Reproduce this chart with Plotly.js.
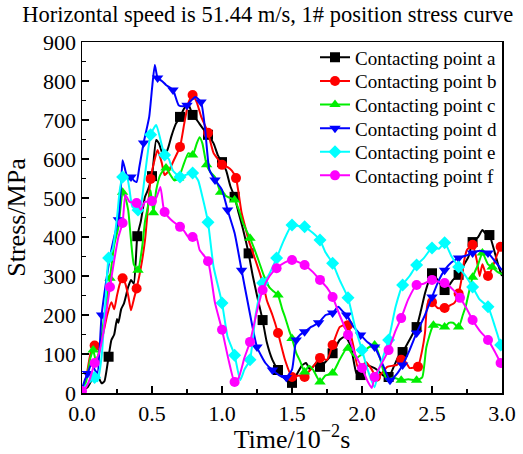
<!DOCTYPE html>
<html>
<head>
<meta charset="utf-8">
<script src="https://cdn.plot.ly/plotly-3.0.1.min.js"></script>
<style>html,body{margin:0;padding:0;background:#fff;}</style>
</head>
<body>
<div id="chart" style="width:523px;height:454px;"></div>
<script>
// Series names
const names = ["Contacting point a","Contacting point b","Contacting point c","Contacting point d","Contacting point e","Contacting point f"];
const colors = ["#000000","#ff0000","#00ee00","#0000ff","#00ffff","#ff00ff"];
const symbols = ["square","circle","triangle-up","triangle-down","diamond","circle"];

// Point a (black): time (10^-2 s), stress (MPa), marker flag
const aT = [0,0.04,0.08,0.11,0.14,0.16,0.19,0.21,0.23,0.25,0.26,0.28,0.3,0.33,0.35,0.37,0.395,0.42,0.45,0.47,0.5,0.53,0.55,0.58,0.61,0.64,0.67,0.7,0.73,0.76,0.79,0.82,0.86,0.9,0.94,0.97,1.0,1.03,1.06,1.09,1.12,1.15,1.19,1.22,1.25,1.29,1.32,1.36,1.4,1.44,1.47,1.5,1.53,1.57,1.6,1.63,1.67,1.7,1.74,1.79,1.84,1.88,1.92,1.96,1.99,2.03,2.07,2.11,2.15,2.19,2.23,2.27,2.29,2.33,2.36,2.39,2.42,2.45,2.48,2.5,2.54,2.59,2.62,2.65,2.69,2.73,2.76,2.79,2.83,2.86,2.88,2.91,2.95,2.98,3.0];
const aV = [5,15,40,45,25,30,93,136,150,190,180,215,230,272,290,280,402,440,503,520,556,649,640,610,623,660,690,708,730,740,713,700,680,662,640,610,592,570,530,503,460,420,358,300,250,187,130,85,59,40,30,26,45,70,77,60,75,67,80,102,136,145,120,51,46,70,67,59,45,41,70,100,105,130,150,169,210,256,290,307,290,264,275,290,303,330,349,387,400,418,410,405,358,320,300];
const aM = [0,0,0,0,0,0,1,0,0,0,0,0,0,0,0,0,1,0,0,0,1,0,0,0,0,0,0,1,0,0,1,0,0,1,0,0,1,0,0,1,0,0,1,0,0,1,0,0,1,0,0,1,0,0,0,0,0,1,0,1,0,0,0,0,1,0,0,0,0,1,0,0,1,0,0,1,0,0,0,1,0,1,0,0,1,0,0,1,0,0,0,1,0,0,0];

// Point b (red)
const bT = [0,0.03,0.06,0.09,0.12,0.15,0.18,0.21,0.23,0.25,0.27,0.29,0.31,0.33,0.35,0.37,0.39,0.42,0.45,0.47,0.49,0.52,0.54,0.57,0.59,0.62,0.66,0.7,0.73,0.76,0.79,0.82,0.85,0.9,0.94,0.97,1.0,1.04,1.07,1.1,1.14,1.17,1.19,1.23,1.27,1.3,1.32,1.36,1.4,1.45,1.5,1.55,1.59,1.62,1.65,1.7,1.75,1.79,1.84,1.88,1.9,1.94,1.97,2.0,2.03,2.07,2.1,2.14,2.18,2.22,2.25,2.28,2.31,2.34,2.37,2.4,2.43,2.45,2.47,2.5,2.54,2.59,2.63,2.66,2.69,2.71,2.73,2.75,2.79,2.82,2.84,2.86,2.88,2.9,2.93,2.96,2.99,3.0];
const bV = [5,40,100,122,110,150,200,233,215,250,280,294,280,250,212,240,268,320,392,470,549,600,623,590,559,570,600,631,690,744,764,745,710,667,615,600,585,579,570,551,462,420,392,350,307,270,238,200,154,85,41,45,41,55,67,90,85,123,169,175,174,118,67,70,79,60,41,50,67,70,72,85,80,64,65,67,110,154,231,233,218,218,225,231,255,290,340,367,380,340,300,330,310,300,320,350,375,370];
const bM = [0,0,0,1,0,0,0,0,0,0,0,1,0,0,0,0,1,0,0,0,1,0,0,0,0,0,0,1,0,0,1,0,0,1,0,0,1,0,0,1,0,0,0,0,0,0,0,0,1,0,1,0,1,0,0,1,0,1,0,0,1,0,0,0,0,0,1,0,0,0,0,1,0,0,0,1,0,0,0,1,0,1,0,0,1,0,0,0,1,0,0,0,0,1,0,0,1,0];

// Point c (green)
const cT = [0,0.03,0.06,0.08,0.1,0.13,0.16,0.2,0.23,0.26,0.29,0.31,0.33,0.35,0.37,0.4,0.43,0.45,0.47,0.49,0.51,0.53,0.56,0.6,0.63,0.66,0.69,0.72,0.76,0.79,0.82,0.84,0.86,0.89,0.92,0.95,0.99,1.04,1.09,1.12,1.15,1.2,1.23,1.26,1.3,1.34,1.37,1.4,1.43,1.45,1.48,1.5,1.53,1.56,1.59,1.62,1.65,1.68,1.7,1.74,1.79,1.84,1.88,1.9,1.93,1.96,2.0,2.04,2.09,2.12,2.15,2.18,2.22,2.28,2.33,2.39,2.43,2.46,2.51,2.55,2.59,2.62,2.65,2.69,2.72,2.74,2.79,2.83,2.86,2.9,2.93,2.97,3.0];
const cV = [5,30,90,110,80,120,200,294,380,425,515,500,469,392,330,315,375,440,477,520,462,520,560,577,560,545,551,580,615,610,640,656,640,585,565,554,515,503,495,470,436,397,370,341,300,270,260,251,215,195,160,140,103,80,54,70,60,40,28,45,51,85,110,115,100,90,100,115,123,100,60,33,40,33,35,33,40,118,174,175,169,180,180,169,200,221,297,330,359,330,323,310,305];
const cM = [0,0,0,1,0,0,0,1,0,0,1,0,0,0,0,1,0,0,0,0,1,0,0,1,0,0,1,0,0,1,0,0,0,1,0,0,1,0,1,0,0,1,0,0,0,0,0,1,0,0,0,1,0,0,1,0,0,0,1,0,1,0,0,1,0,0,0,0,1,0,0,0,0,1,0,1,0,0,1,0,1,0,0,1,0,0,1,0,1,0,1,0,0];

// Point d (blue)
const dT = [0,0.02,0.04,0.07,0.09,0.11,0.14,0.17,0.2,0.23,0.26,0.28,0.29,0.31,0.33,0.35,0.37,0.39,0.41,0.44,0.48,0.5,0.52,0.54,0.57,0.6,0.65,0.69,0.72,0.75,0.78,0.81,0.85,0.88,0.91,0.95,1.0,1.04,1.09,1.14,1.19,1.25,1.31,1.36,1.43,1.46,1.5,1.53,1.56,1.59,1.64,1.69,1.74,1.79,1.83,1.86,1.89,1.94,1.99,2.04,2.09,2.14,2.2,2.24,2.29,2.34,2.39,2.45,2.5,2.55,2.59,2.64,2.69,2.74,2.79,2.84,2.9,2.96,3.0];
const dV = [10,33,50,77,60,51,200,280,349,400,444,540,597,570,546,554,545,541,580,641,708,780,841,808,800,790,777,738,735,738,750,759,746,674,572,546,521,469,410,315,221,118,77,59,41,40,60,136,150,157,170,180,200,205,221,210,200,170,149,130,118,80,33,45,72,110,154,200,246,290,315,335,346,352,359,365,359,333,315];
const dM = [0,0,1,0,0,0,1,0,0,0,1,0,0,0,0,1,0,0,0,1,0,0,0,1,0,0,1,0,0,1,0,0,1,0,0,1,0,1,0,1,0,1,0,1,0,1,0,1,0,1,0,1,0,1,0,0,1,0,1,0,1,0,1,0,1,0,1,0,1,0,1,0,1,0,1,0,1,0,0];

// Point e (cyan)
const eT = [0,0.03,0.07,0.09,0.11,0.14,0.17,0.19,0.22,0.25,0.27,0.29,0.32,0.34,0.36,0.4,0.42,0.45,0.49,0.53,0.56,0.59,0.62,0.65,0.7,0.74,0.79,0.83,0.86,0.9,0.94,1.0,1.04,1.09,1.13,1.16,1.2,1.24,1.29,1.33,1.39,1.44,1.5,1.55,1.59,1.65,1.7,1.74,1.79,1.84,1.9,1.95,2.0,2.04,2.09,2.12,2.19,2.24,2.29,2.34,2.39,2.44,2.5,2.55,2.59,2.64,2.69,2.74,2.79,2.84,2.9,2.95,2.99,3.0];
const eV = [5,20,33,40,30,92,250,346,370,450,521,554,555,520,477,469,480,560,662,687,650,610,600,570,554,559,564,545,503,438,323,231,144,97,33,60,85,200,282,300,346,390,431,428,426,410,392,360,333,290,244,170,110,60,15,60,136,221,277,300,328,345,372,370,385,350,323,300,272,240,221,170,123,110];
const eM = [0,0,0,1,0,0,0,1,0,0,0,1,0,0,0,1,0,0,1,0,0,1,0,0,1,0,1,0,0,1,0,1,0,1,0,0,1,0,1,0,1,0,1,0,1,0,1,0,1,0,1,0,1,0,0,0,1,0,1,0,1,0,1,0,1,0,1,0,1,0,1,0,1,0];

// Point f (magenta)
const fT = [0,0.03,0.06,0.09,0.12,0.15,0.2,0.23,0.26,0.29,0.31,0.34,0.39,0.42,0.45,0.5,0.53,0.56,0.58,0.59,0.62,0.65,0.7,0.73,0.76,0.79,0.82,0.84,0.9,0.95,1.0,1.05,1.09,1.12,1.16,1.2,1.25,1.29,1.34,1.39,1.45,1.5,1.55,1.59,1.65,1.7,1.75,1.79,1.84,1.9,1.95,2.0,2.04,2.07,2.09,2.14,2.19,2.24,2.28,2.33,2.39,2.44,2.5,2.55,2.59,2.65,2.7,2.75,2.79,2.84,2.9,2.95,2.99,3.0];
const fV = [5,15,40,77,100,150,272,340,400,436,508,490,487,470,490,492,500,528,480,464,450,440,426,415,400,400,395,367,338,231,162,80,28,40,90,131,210,264,300,320,335,341,335,328,310,290,270,246,200,149,100,64,30,13,41,75,110,160,192,240,277,280,290,285,282,265,244,215,187,160,136,105,77,70];
const fM = [1,0,0,1,0,0,1,0,0,1,0,0,1,0,0,1,0,0,0,1,0,0,1,0,0,1,0,0,1,0,1,0,1,0,0,1,0,1,0,1,0,1,0,1,0,1,0,1,0,1,0,1,0,0,1,0,1,0,1,0,1,0,1,0,1,0,1,0,1,0,1,0,1,0];

const series = [[aT,aV,aM],[bT,bV,bM],[cT,cV,cM],[dT,dV,dM],[eT,eV,eM],[fT,fV,fM]];

const FONT = "'Liberation Serif','Times New Roman',serif";
const traces = [];
series.forEach((s, i) => {
  const [t, v, m] = s;
  traces.push({x: t, y: v, mode: 'lines', type: 'scatter', showlegend: false,
    line: {color: colors[i], width: 2, shape: 'spline', smoothing: 0.5}, hoverinfo: 'skip'});
  traces.push({x: t.filter((_, k) => m[k]), y: v.filter((_, k) => m[k]), mode: 'markers', type: 'scatter',
    showlegend: false, marker: {color: colors[i], symbol: symbols[i], size: 10, line: {width: 0}}});
});
// legend entries
series.forEach((s, i) => {
  traces.push({x: [null], y: [null], mode: 'lines+markers', type: 'scatter', name: names[i],
    line: {color: colors[i], width: 2}, marker: {color: colors[i], symbol: symbols[i], size: 10}});
});

const axisCommon = {
  showline: true, linecolor: '#000', linewidth: 1.5, mirror: true,
  ticks: 'inside', ticklen: 7, tickwidth: 1.5, tickcolor: '#000',
  showgrid: false, zeroline: false,
  tickfont: {family: FONT, size: 22, color: '#000'}
};

const layout = {
  width: 523, height: 454,
  margin: {l: 82, r: 21, t: 42, b: 61},
  paper_bgcolor: '#fff', plot_bgcolor: '#fff',
  font: {family: FONT, color: '#000'},
  title: {text: 'Horizontal speed is 51.44 m/s, 1# position stress curve',
    font: {family: FONT, size: 22.5, color: '#000'},
    x: 0.512, xanchor: 'center', xref: 'container', y: 0.968, yanchor: 'middle', yref: 'container'},
  xaxis: Object.assign({}, axisCommon, {
    range: [0, 3], dtick: 0.5, tick0: 0, tickformat: '.1f',
    minor: {ticks: 'inside', ticklen: 4, dtick: 0.25, tickcolor: '#000', tickwidth: 1.5},
    title: {text: 'Time/10<sup>−2</sup>s', font: {family: FONT, size: 26, color: '#000'}, standoff: 4}
  }),
  yaxis: Object.assign({}, axisCommon, {
    range: [0, 900], dtick: 100, tick0: 0,
    minor: {ticks: 'inside', ticklen: 4, dtick: 50, tickcolor: '#000', tickwidth: 1.5},
    title: {text: 'Stress/MPa', font: {family: FONT, size: 26, color: '#000'}, standoff: 10}
  }),
  legend: {x: 1, xanchor: 'right', y: 1.01, yanchor: 'top', bgcolor: 'rgba(0,0,0,0)', borderwidth: 0,
    font: {family: FONT, size: 19, color: '#000'}, tracegroupgap: 0, itemwidth: 30},
  showlegend: true
};

Plotly.newPlot('chart', traces, layout, {displayModeBar: false, staticPlot: true}).then(function (gd) {
  // tighten legend row spacing to match the reference
  const items = gd.querySelectorAll('.legend .traces');
  if (!items.length) return;
  const parse = el => {
    const m = /translate\(\s*([-\d.]+)[ ,]+([-\d.]+)\s*\)/.exec(el.getAttribute('transform') || '');
    return m ? [parseFloat(m[1]), parseFloat(m[2])] : [0, 0];
  };
  const first = parse(items[0]);
  items.forEach((el, i) => {
    const p = parse(el);
    el.setAttribute('transform', 'translate(' + p[0] + ',' + (first[1] + i * 23.6) + ')');
  });
});
</script>
</body>
</html>
